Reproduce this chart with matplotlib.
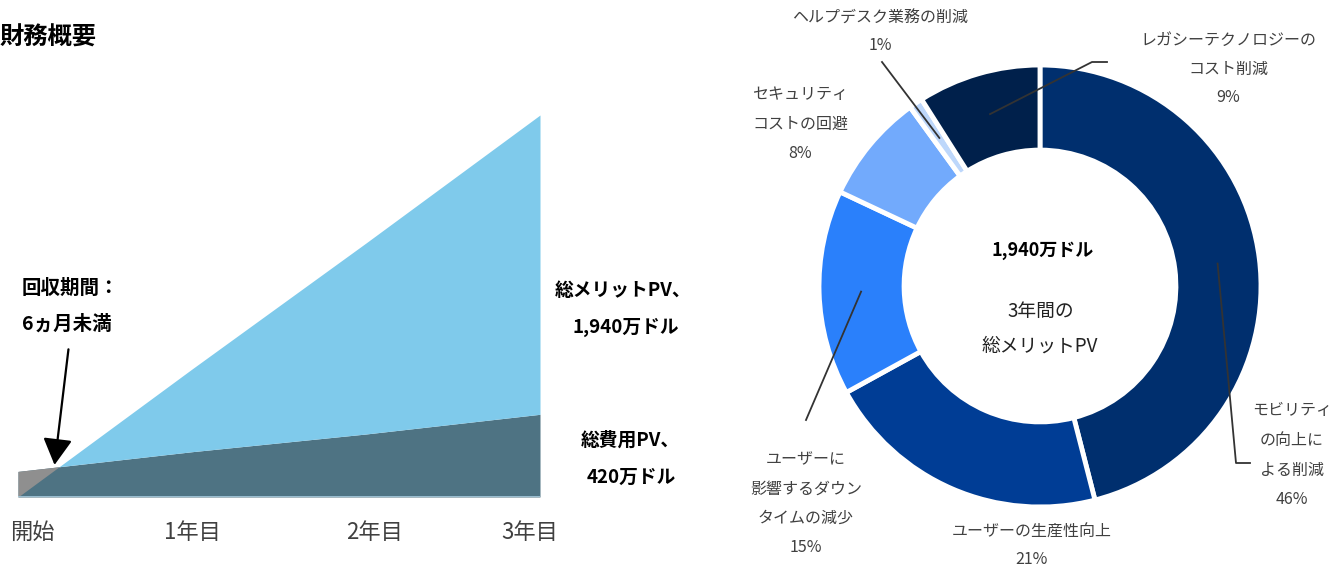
import numpy as np
import matplotlib.pyplot as plt

plt.rcParams['font.family'] = ['Noto Sans CJK JP', 'DejaVu Sans']

W, H = 1341, 567

# 左: 財務概要 (単位: 百万ドル)
years = [0, 1, 2, 3]
benefit = [0.0, 6.5, 12.9, 19.4]
cost = [1.3, 2.3, 3.2, 4.2]
year_labels = ['開始', '1年目', '2年目', '3年目']
tick_pos = [0.08, 1.0, 2.05, 2.94]
payback = 0.23

# 右: メリットの内訳 (%)
shares = [46, 21, 15, 8, 1, 9]
share_labels = [
    ['モビリティ', 'の向上に', 'よる削減'],
    ['ユーザーの生産性向上'],
    ['ユーザーに', '影響するダウン', 'タイムの減少'],
    ['セキュリティ', 'コストの回避'],
    ['ヘルプデスク業務の削減'],
    ['レガシーテクノロジーの', 'コスト削減'],
]
share_colors = ['#002f6e', '#003d95', '#2a80fb', '#72aafc', '#bdd7fb', '#00204b']

GRAY_TXT = '#404040'


def fpx(x, y):
    return x / W, 1 - y / H


fig = plt.figure(figsize=(W / 100, H / 100), dpi=100)

# ---- area chart ----
ax = fig.add_axes([18 / W, (H - 497) / H, 522 / W, 382 / H])
b = np.array(benefit)
c = np.array(cost)
ax.fill_between(years, 0, c, color='#4e7383', lw=0)
ax.fill_between(years, c, b, where=b >= c, interpolate=True, color='#7fcaeb', lw=0)
ax.fill_between(years, b, c, where=c >= b, interpolate=True, color='#8f8f8f', lw=0)
ax.axhline(0, color='#a9cde0', lw=1.2)
ax.set_xlim(0, 3)
ax.set_ylim(0, 19.4)
ax.set_frame_on(False)
ax.set_yticks([])
ax.set_xticks(tick_pos)
ax.set_xticklabels(year_labels, fontsize=16, color=GRAY_TXT)
ax.tick_params(axis='x', length=0, pad=17)

pay_y = np.interp(payback, years, cost)
ax.annotate('', xy=(payback - 0.02, pay_y + 0.1), xytext=(0.29, 7.5),
            arrowprops=dict(arrowstyle='-|>,head_length=0.9,head_width=0.5',
                            color='black', lw=1.6, shrinkA=0, shrinkB=0,
                            mutation_scale=18))

fig.text(*fpx(0, 38), '財務概要', fontsize=17.5, fontweight='bold', va='center')
fig.text(*fpx(22, 288), '回収期間：', fontsize=14, fontweight='bold', va='center')
fig.text(*fpx(22, 324), '6ヵ月未満', fontsize=14, fontweight='bold', va='center')
fig.text(*fpx(623, 290), '総メリットPV、', fontsize=13.5, fontweight='bold', ha='center', va='center')
fig.text(*fpx(626, 327), '1,940万ドル', fontsize=13.5, fontweight='bold', ha='center', va='center')
fig.text(*fpx(630, 440), '総費用PV、', fontsize=13.5, fontweight='bold', ha='center', va='center')
fig.text(*fpx(631, 477), '420万ドル', fontsize=13.5, fontweight='bold', ha='center', va='center')

# ---- donut ----
cx, cy, R = 1040, 286, 221
ax2 = fig.add_axes([(cx - R) / W, (H - cy - R) / H, 2 * R / W, 2 * R / H])
wedges, _ = ax2.pie(shares, colors=share_colors, startangle=90, counterclock=False,
                    radius=1, wedgeprops=dict(width=0.385, edgecolor='white', linewidth=3.5))
ax2.set_xlim(-1, 1)
ax2.set_ylim(-1, 1)


def d(x, y):
    return (x - cx) / R, (cy - y) / R


def mid_point(i, r=0.81):
    w = wedges[i]
    a = np.deg2rad((w.theta1 + w.theta2) / 2)
    return r * np.cos(a), r * np.sin(a)


# label positions (center x, first line y, step) in pixels
label_pos = [(1292, 410, 30), (1032, 532, 27), (806, 460, 29),
             (800, 95, 29), (880, 18, 27), (1228, 40, 29)]
for i, (lx, ly, step) in enumerate(label_pos):
    lines = share_labels[i] + ['{}%'.format(shares[i])]
    for k, line in enumerate(lines):
        ax2.text(*d(lx, ly + k * step), line, ha='center', va='center',
                 fontsize=11.5, color=GRAY_TXT, clip_on=False)

leaders = {0: [(1236, 463), (1250, 463)],
           2: [(806, 420)],
           4: [(882, 62)],
           5: [(1092, 62), (1107, 62)]}
for i, pts in leaders.items():
    xs, ys = zip(*([mid_point(i)] + [d(*p) for p in pts]))
    ax2.plot(xs, ys, color='#333333', lw=1.3, clip_on=False)

ax2.text(*d(1043, 250), '1,940万ドル', fontsize=13, fontweight='bold', ha='center', va='center')
ax2.text(*d(1041, 311), '3年間の', fontsize=13.5, color='#222222', ha='center', va='center')
ax2.text(*d(1040, 346), '総メリットPV', fontsize=13.5, color='#222222', ha='center', va='center')

fig.savefig('out.png', dpi=100)
